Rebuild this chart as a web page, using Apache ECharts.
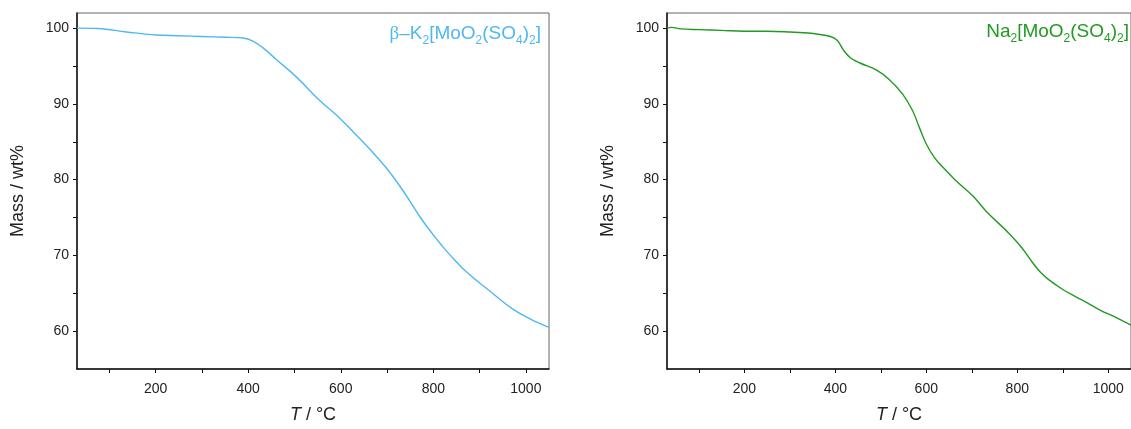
<!DOCTYPE html>
<html>
<head>
<meta charset="utf-8">
<script src="https://cdn.jsdelivr.net/npm/echarts@6/dist/echarts.min.js"></script>
<style>
html,body{margin:0;padding:0;background:#fff;}
#c{width:1131px;height:429px;}
</style>
</head>
<body>
<div id="c"></div>
<script>
// Temperature (°C) / mass (wt%)
const kTemp = [30, 75, 137, 200, 250, 300, 350, 389, 410, 432, 460, 505, 555, 591, 627, 663, 699, 735, 771, 800, 817, 834, 872, 922, 972, 1010, 1050];
const kMass = [100.0, 99.95, 99.5, 99.1, 99.0, 98.9, 98.8, 98.7, 98.3, 97.4, 95.9, 93.5, 90.4, 88.5, 86.3, 84.0, 81.5, 78.5, 75.1, 72.7, 71.4, 70.2, 67.8, 65.3, 62.9, 61.6, 60.5];

const naTemp = [30, 40, 60, 100, 150, 200, 250, 300, 340, 362, 389, 404, 418, 433, 454, 490, 519, 548, 570, 584, 600, 618, 634, 663, 703, 732, 782, 810, 833, 852, 869, 900, 927, 955, 984, 1010, 1037, 1050];
const naMass = [100.0, 100.1, 99.9, 99.8, 99.7, 99.6, 99.6, 99.5, 99.35, 99.2, 98.9, 98.4, 97.1, 96.1, 95.4, 94.5, 93.2, 91.3, 89.1, 87.0, 84.7, 82.9, 81.8, 80.0, 77.8, 75.8, 72.9, 71.0, 69.1, 67.7, 66.8, 65.5, 64.6, 63.7, 62.7, 62.0, 61.2, 60.8];

const xLabels = [200, 400, 600, 800, 1000];
const xTicks = [100, 200, 300, 400, 500, 600, 700, 800, 900, 1000];
const yLabels = [60, 70, 80, 90, 100];
const yTicks = [60, 65, 70, 75, 80, 85, 90, 95, 100];

const kColor = '#4fb8f2';
const naColor = '#229a22';
const FONT = '"Liberation Sans", Arial, sans-serif';

function pairs(t, m) { return t.map((v, i) => [v, m[i]]); }

function xAxis(idx) {
  return {
    gridIndex: idx, type: 'value', min: 30, max: 1050,
    name: '{i|T} / °C', nameLocation: 'middle', nameGap: 37,
    nameTextStyle: { fontFamily: FONT, fontSize: 18, color: '#222',
      rich: { i: { fontFamily: FONT, fontSize: 18, fontStyle: 'italic', color: '#222' } } },
    axisLine: { show: true, lineStyle: { color: '#111', width: 1.5 } },
    axisTick: { show: true, inside: false, length: 4, customValues: xTicks, lineStyle: { color: '#111', width: 1 } },
    axisLabel: { customValues: xLabels, formatter: v => String(v), fontFamily: FONT, fontSize: 14, color: '#222', margin: 13 },
    splitLine: { show: false }
  };
}
function yAxis(idx) {
  return {
    gridIndex: idx, type: 'value', min: 55, max: 102,
    name: 'Mass / wt%', nameLocation: 'middle', nameGap: 50,
    nameTextStyle: { fontFamily: FONT, fontSize: 18, color: '#222' },
    axisLine: { show: true, lineStyle: { color: '#111', width: 1.5 } },
    axisTick: { show: true, inside: false, length: 4, customValues: yTicks, lineStyle: { color: '#111', width: 1 } },
    axisLabel: { customValues: yLabels, formatter: v => String(v), fontFamily: FONT, fontSize: 14, color: '#222', margin: 8 },
    splitLine: { show: false }
  };
}

function formulaRich(color) {
  return {
    b: { fontFamily: '"Liberation Serif", serif', fontSize: 19, fill: color, lineHeight: 26 },
    n: { fontFamily: FONT, fontSize: 19, fill: color, lineHeight: 26 },
    s: { fontFamily: FONT, fontSize: 12, fill: color, lineHeight: 12, verticalAlign: 'bottom' }
  };
}

const chart = echarts.init(document.getElementById('c'), null, { renderer: 'canvas' });
chart.setOption({
  animation: false,
  backgroundColor: '#fff',
  grid: [
    { left: 77, top: 13, width: 472, height: 361, show: true, borderColor: '#666', borderWidth: 1, containLabel: false },
    { left: 667, top: 13, width: 472, height: 361, show: true, borderColor: '#666', borderWidth: 1, containLabel: false }
  ],
  xAxis: [xAxis(0), xAxis(1)],
  yAxis: [yAxis(0), yAxis(1)],
  series: [
    { type: 'line', xAxisIndex: 0, yAxisIndex: 0, data: pairs(kTemp, kMass), smooth: 0.4, showSymbol: false,
      lineStyle: { color: kColor, width: 1.4 } },
    { type: 'line', xAxisIndex: 1, yAxisIndex: 1, data: pairs(naTemp, naMass), smooth: 0.4, showSymbol: false,
      lineStyle: { color: naColor, width: 1.4 } }
  ],
  graphic: [
    { type: 'text', x: 541, y: 34, style: {
      text: '{b|β}{n|–K}{s|2}{n|[MoO}{s|2}{n|(SO}{s|4}{n|)}{s|2}{n|]}',
      align: 'right', verticalAlign: 'middle', rich: formulaRich(kColor) } },
    { type: 'text', x: 1129, y: 32, style: {
      text: '{n|Na}{s|2}{n|[MoO}{s|2}{n|(SO}{s|4}{n|)}{s|2}{n|]}',
      align: 'right', verticalAlign: 'middle', rich: formulaRich(naColor) } }
  ]
});
</script>
</body>
</html>
